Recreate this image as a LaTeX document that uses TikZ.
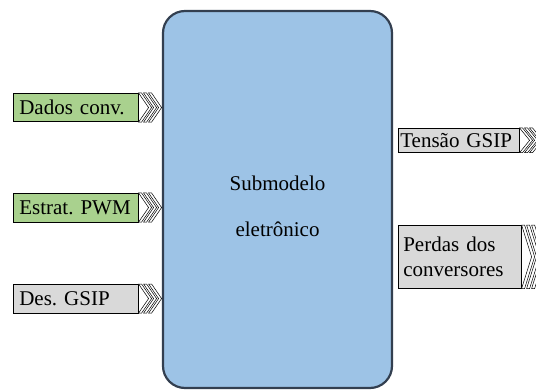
\documentclass[tikz,border=0pt]{standalone}
\usepackage{fontspec}
\setmainfont{Liberation Serif}
\usetikzlibrary{arrows.meta}

\definecolor{blocofill}{HTML}{9DC3E6}
\definecolor{blocodraw}{HTML}{333F50}
\definecolor{verde}{HTML}{A9D18E}
\definecolor{cinza}{HTML}{D9D9D9}

% tres chevrons colados ao lado direito de um sinal
\newcommand{\chevrons}[1]{%
  \foreach \k in {0,1,2}{
    \draw[chev] ([xshift=\k*5pt]#1.north east) -- ++(3,0)
      -- ([xshift=\k*5pt+13pt]#1.east)
      -- ([xshift=\k*5pt+3pt]#1.south east) -- ++(-3,0)
      -- ([xshift=\k*5pt+10pt]#1.east) -- cycle;
  }}

\begin{document}
\frenchspacing
\begin{tikzpicture}[
    x=1pt, y=1pt,
    bloco/.style={draw=blocodraw, fill=blocofill, rounded corners=22pt, line width=2.2pt, minimum width=229, minimum height=377},
    sinal/.style={draw, line width=0.6pt, anchor=north west, align=left, inner xsep=6pt, font=\fontsize{21}{25}\selectfont\frenchspacing},
    entrada/.style={sinal, fill=verde},
    saida/.style={sinal, fill=cinza},
    chev/.style={draw, fill=white, line width=0.5pt}
]
\useasboundingbox (0,0) rectangle (536,389);

% Submodelo
\node (sub) [bloco] at (277.5,189.5) {};
\node (subtxt) [align=center, font=\fontsize{21}{46}\selectfont] at ([yshift=-7pt]sub.center) {Submodelo\\eletrônico};

% Entradas
\node (dados) [entrada, text width=113, minimum height=28.5] at (13,296) {Dados conv.};
\node (estrat) [entrada, text width=113, minimum height=28.5] at (13,196) {Estrat. PWM};
\node (des) [sinal, fill=cinza, text width=113, minimum height=28.5] at (13,105) {Des. GSIP};

% Saidas
\node (tensao) [saida, inner xsep=2pt, text width=117, minimum height=24] at (398,261) {Tensão GSIP};
\node (perdas) [saida, inner xsep=5pt, text width=113, minimum height=63] at (398,164) {Perdas dos\\conversores};

\chevrons{dados}
\chevrons{estrat}
\chevrons{des}
\chevrons{tensao}
\chevrons{perdas}

\end{tikzpicture}
\end{document}
